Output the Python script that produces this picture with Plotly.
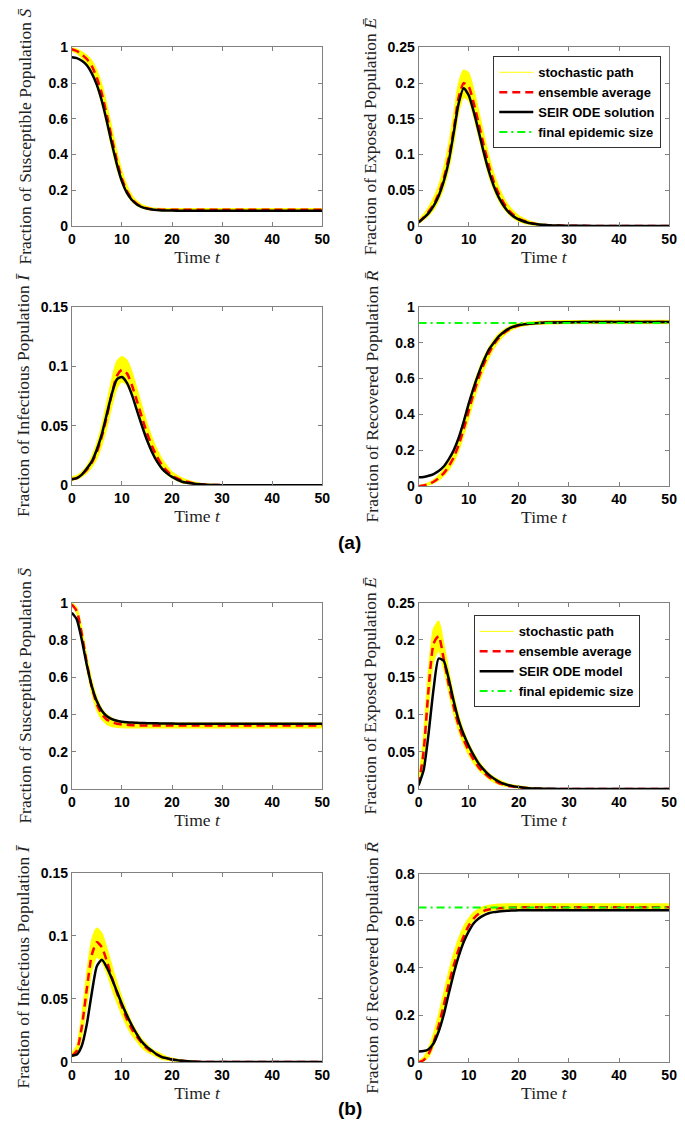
import plotly.graph_objects as go

# ---------------- data ----------------
T = [0, 1, 2, 3, 4, 5, 6, 7, 8, 9, 10, 11, 12, 13, 14, 15, 16, 17, 18, 19, 20,
     22, 24, 26, 28, 30, 35, 40, 45, 50]

# Panel (a)
a_S_ode = [0.945, 0.94, 0.925, 0.9, 0.855, 0.79, 0.70, 0.585, 0.46, 0.345, 0.25, 0.185, 0.145, 0.12, 0.105,
           0.097, 0.092, 0.089, 0.087, 0.086, 0.086, 0.085, 0.085, 0.085, 0.085, 0.085, 0.085, 0.085, 0.085, 0.085]
a_S_avg = [0.99, 0.98, 0.96, 0.935, 0.895, 0.83, 0.74, 0.62, 0.49, 0.365, 0.265, 0.195, 0.15, 0.123, 0.108,
           0.099, 0.094, 0.092, 0.091, 0.09, 0.09, 0.09, 0.09, 0.09, 0.09, 0.09, 0.09, 0.09, 0.09, 0.09]
a_S_lo = [0.98, 0.965, 0.94, 0.905, 0.855, 0.78, 0.68, 0.56, 0.43, 0.32, 0.235, 0.175, 0.137, 0.113, 0.1,
          0.092, 0.088, 0.086, 0.085, 0.084, 0.084, 0.083, 0.083, 0.083, 0.083, 0.083, 0.083, 0.083, 0.083, 0.083]
a_S_hi = [1.0, 0.99, 0.975, 0.955, 0.925, 0.87, 0.79, 0.675, 0.545, 0.415, 0.305, 0.225, 0.17, 0.138, 0.118,
          0.108, 0.101, 0.098, 0.097, 0.096, 0.096, 0.096, 0.096, 0.096, 0.096, 0.096, 0.096, 0.096, 0.096, 0.096]

a_E_ode = [0.005, 0.011, 0.018, 0.028, 0.042, 0.062, 0.09, 0.13, 0.172, 0.193, 0.183, 0.16, 0.132, 0.103, 0.077,
           0.056, 0.04, 0.028, 0.019, 0.013, 0.009, 0.004, 0.002, 0.001, 0.0005, 0.0002, 0, 0, 0, 0]
a_E_avg = [0.005, 0.012, 0.02, 0.03, 0.045, 0.066, 0.096, 0.135, 0.18, 0.2, 0.195, 0.172, 0.143, 0.113, 0.085,
           0.062, 0.045, 0.032, 0.022, 0.015, 0.01, 0.005, 0.002, 0.001, 0.0005, 0.0002, 0, 0, 0, 0]
a_E_lo = [0.003, 0.008, 0.014, 0.022, 0.035, 0.052, 0.078, 0.113, 0.158, 0.18, 0.175, 0.152, 0.124, 0.096, 0.07,
          0.05, 0.035, 0.024, 0.016, 0.01, 0.006, 0.002, 0.0005, 0, 0, 0, 0, 0, 0, 0]
a_E_hi = [0.008, 0.016, 0.026, 0.039, 0.056, 0.08, 0.113, 0.155, 0.2, 0.218, 0.214, 0.19, 0.16, 0.128, 0.098,
          0.073, 0.054, 0.039, 0.028, 0.02, 0.014, 0.007, 0.003, 0.0015, 0.0008, 0.0003, 0, 0, 0, 0]

a_I_ode = [0.005, 0.006, 0.009, 0.014, 0.02, 0.03, 0.043, 0.06, 0.077, 0.089, 0.091, 0.086, 0.076, 0.063, 0.05,
           0.038, 0.028, 0.02, 0.014, 0.01, 0.007, 0.003, 0.0015, 0.0007, 0.0003, 0.0001, 0, 0, 0, 0]
a_I_avg = [0.005, 0.006, 0.009, 0.013, 0.019, 0.028, 0.041, 0.058, 0.077, 0.092, 0.097, 0.094, 0.084, 0.071, 0.057,
           0.044, 0.033, 0.024, 0.017, 0.012, 0.008, 0.004, 0.002, 0.0008, 0.0003, 0.0001, 0, 0, 0, 0]
a_I_lo = [0.004, 0.005, 0.007, 0.01, 0.015, 0.022, 0.033, 0.048, 0.066, 0.081, 0.087, 0.084, 0.075, 0.062, 0.049,
          0.037, 0.027, 0.019, 0.013, 0.009, 0.006, 0.002, 0.001, 0.0003, 0, 0, 0, 0, 0, 0]
a_I_hi = [0.007, 0.008, 0.011, 0.016, 0.024, 0.035, 0.05, 0.069, 0.089, 0.104, 0.108, 0.105, 0.095, 0.081, 0.066,
          0.052, 0.04, 0.03, 0.022, 0.016, 0.011, 0.006, 0.003, 0.0013, 0.0006, 0.0002, 0, 0, 0, 0]

a_R_ode = [0.05, 0.052, 0.058, 0.068, 0.085, 0.11, 0.15, 0.2, 0.27, 0.36, 0.46, 0.55, 0.63, 0.7, 0.76,
           0.8, 0.835, 0.86, 0.878, 0.89, 0.898, 0.906, 0.91, 0.912, 0.913, 0.914, 0.915, 0.915, 0.915, 0.915]
a_R_avg = [0, 0.004, 0.012, 0.025, 0.045, 0.072, 0.11, 0.16, 0.23, 0.32, 0.42, 0.52, 0.605, 0.68, 0.74,
           0.79, 0.826, 0.853, 0.873, 0.887, 0.896, 0.906, 0.91, 0.912, 0.913, 0.914, 0.915, 0.915, 0.915, 0.915]
a_R_lo = [0, 0.002, 0.007, 0.016, 0.032, 0.055, 0.088, 0.132, 0.195, 0.28, 0.375, 0.475, 0.565, 0.645, 0.71,
          0.765, 0.805, 0.837, 0.86, 0.876, 0.887, 0.898, 0.902, 0.904, 0.905, 0.906, 0.906, 0.906, 0.906, 0.906]
a_R_hi = [0.003, 0.008, 0.018, 0.035, 0.06, 0.092, 0.135, 0.19, 0.27, 0.365, 0.465, 0.565, 0.645, 0.715, 0.77,
          0.815, 0.848, 0.87, 0.887, 0.898, 0.905, 0.914, 0.918, 0.92, 0.921, 0.922, 0.923, 0.923, 0.923, 0.923]
a_final_size = 0.91

# Panel (b)
b_S_ode = [0.945, 0.91, 0.8, 0.665, 0.55, 0.47, 0.42, 0.39, 0.375, 0.366, 0.361, 0.358, 0.356, 0.355, 0.354,
           0.353, 0.352, 0.352, 0.351, 0.351, 0.351, 0.35, 0.35, 0.35, 0.35, 0.35, 0.35, 0.35, 0.35, 0.35]
b_S_avg = [0.99, 0.955, 0.83, 0.675, 0.545, 0.455, 0.4, 0.372, 0.358, 0.35, 0.346, 0.344, 0.342, 0.341, 0.341,
           0.34, 0.34, 0.34, 0.34, 0.34, 0.34, 0.34, 0.34, 0.34, 0.34, 0.34, 0.34, 0.34, 0.34, 0.34]
b_S_lo = [0.985, 0.94, 0.8, 0.64, 0.51, 0.42, 0.37, 0.345, 0.334, 0.33, 0.328, 0.327, 0.327, 0.327, 0.327,
          0.327, 0.327, 0.327, 0.327, 0.327, 0.327, 0.327, 0.327, 0.327, 0.327, 0.327, 0.327, 0.327, 0.327, 0.327]
b_S_hi = [1.0, 0.97, 0.86, 0.71, 0.58, 0.49, 0.43, 0.398, 0.38, 0.368, 0.36, 0.357, 0.355, 0.354, 0.353,
          0.353, 0.353, 0.353, 0.353, 0.353, 0.353, 0.353, 0.353, 0.353, 0.353, 0.353, 0.353, 0.353, 0.353, 0.353]

b_E_ode = [0.005, 0.025, 0.075, 0.135, 0.175, 0.172, 0.148, 0.118, 0.092, 0.073, 0.058, 0.045, 0.034, 0.026, 0.019,
           0.014, 0.01, 0.007, 0.005, 0.0035, 0.0025, 0.001, 0.0005, 0.0002, 0.0001, 0, 0, 0, 0, 0]
b_E_avg = [0.005, 0.05, 0.135, 0.195, 0.205, 0.175, 0.14, 0.11, 0.085, 0.066, 0.051, 0.039, 0.029, 0.022, 0.016,
           0.012, 0.008, 0.006, 0.004, 0.003, 0.002, 0.001, 0.0004, 0.0001, 0, 0, 0, 0, 0, 0]
b_E_lo = [0.003, 0.035, 0.11, 0.17, 0.185, 0.16, 0.13, 0.1, 0.077, 0.059, 0.045, 0.034, 0.025, 0.019, 0.013,
          0.009, 0.006, 0.004, 0.003, 0.002, 0.001, 0.0004, 0, 0, 0, 0, 0, 0, 0, 0]
b_E_hi = [0.008, 0.07, 0.16, 0.215, 0.225, 0.195, 0.158, 0.125, 0.098, 0.077, 0.061, 0.048, 0.037, 0.028, 0.021,
          0.016, 0.012, 0.009, 0.006, 0.005, 0.004, 0.002, 0.001, 0.0005, 0.0002, 0, 0, 0, 0, 0]

b_I_ode = [0.005, 0.006, 0.013, 0.03, 0.055, 0.076, 0.081, 0.075, 0.066, 0.056, 0.046, 0.037, 0.029, 0.022, 0.016,
           0.012, 0.009, 0.006, 0.004, 0.003, 0.002, 0.001, 0.0004, 0.0001, 0, 0, 0, 0, 0, 0]
b_I_avg = [0.005, 0.009, 0.028, 0.058, 0.085, 0.095, 0.091, 0.08, 0.067, 0.055, 0.044, 0.034, 0.026, 0.02, 0.015,
           0.011, 0.008, 0.006, 0.004, 0.003, 0.002, 0.001, 0.0004, 0.0001, 0, 0, 0, 0, 0, 0]
b_I_lo = [0.004, 0.006, 0.02, 0.045, 0.072, 0.083, 0.079, 0.07, 0.058, 0.047, 0.037, 0.028, 0.021, 0.016, 0.011,
          0.008, 0.006, 0.004, 0.002, 0.0015, 0.001, 0.0003, 0, 0, 0, 0, 0, 0, 0, 0]
b_I_hi = [0.007, 0.013, 0.036, 0.07, 0.097, 0.106, 0.102, 0.09, 0.076, 0.063, 0.051, 0.04, 0.031, 0.024, 0.018,
          0.014, 0.01, 0.008, 0.006, 0.004, 0.003, 0.0015, 0.0007, 0.0003, 0.0001, 0, 0, 0, 0, 0]

b_R_ode = [0.045, 0.047, 0.055, 0.08, 0.13, 0.2, 0.29, 0.375, 0.45, 0.51, 0.555, 0.59, 0.61, 0.623, 0.632,
           0.637, 0.64, 0.642, 0.643, 0.644, 0.645, 0.645, 0.645, 0.645, 0.645, 0.645, 0.645, 0.645, 0.645, 0.645]
b_R_avg = [0, 0.008, 0.035, 0.085, 0.155, 0.24, 0.33, 0.41, 0.48, 0.535, 0.58, 0.61, 0.63, 0.642, 0.648,
           0.652, 0.654, 0.655, 0.656, 0.657, 0.657, 0.658, 0.658, 0.658, 0.658, 0.658, 0.658, 0.658, 0.658, 0.658]
b_R_lo = [0, 0.003, 0.02, 0.065, 0.135, 0.22, 0.31, 0.395, 0.47, 0.53, 0.572, 0.602, 0.622, 0.634, 0.641,
          0.645, 0.647, 0.648, 0.649, 0.65, 0.65, 0.65, 0.65, 0.65, 0.65, 0.65, 0.65, 0.65, 0.65, 0.65]
b_R_hi = [0.005, 0.02, 0.06, 0.12, 0.2, 0.29, 0.38, 0.46, 0.525, 0.575, 0.61, 0.635, 0.65, 0.66, 0.665,
          0.668, 0.67, 0.671, 0.672, 0.672, 0.672, 0.672, 0.672, 0.672, 0.672, 0.672, 0.672, 0.672, 0.672, 0.672]
b_final_size = 0.657

X_TICKS = [0, 10, 20, 30, 40, 50]
S_TICKS = [0, 0.2, 0.4, 0.6, 0.8, 1]
E_TICKS = [0, 0.05, 0.1, 0.15, 0.2, 0.25]
I_TICKS = [0, 0.05, 0.1, 0.15]
RB_TICKS = [0, 0.2, 0.4, 0.6, 0.8]

Y_TITLES = {
    "S": "Fraction of Susceptible Population <i>S\u0304</i>",
    "E": "Fraction of Exposed Population <i>E\u0304</i>",
    "I": "Fraction of Infectious Population <i>I\u0304</i>",
    "R": "Fraction of Recovered Population <i>R\u0304</i>",
}

# ---------------- layout helpers ----------------
W, H = 685, 1148
def xdom(x0, x1):
    return [x0 / W, x1 / W]
def ydom(top, bottom):
    return [1 - bottom / H, 1 - top / H]

LEFT = xdom(69, 324)
RIGHT = xdom(422, 677)

panels = [
    # (var, ode, avg, lo, hi, ticks, xdomain, ydomain, final, legend, standoff)
    ("S", a_S_ode, a_S_avg, a_S_lo, a_S_hi, S_TICKS, LEFT, ydom(40, 221), None, None, 12),
    ("E", a_E_ode, a_E_avg, a_E_lo, a_E_hi, E_TICKS, RIGHT, ydom(40, 221), None, "legend", 6),
    ("I", a_I_ode, a_I_avg, a_I_lo, a_I_hi, I_TICKS, LEFT, ydom(303, 484), None, None, 6),
    ("R", a_R_ode, a_R_avg, a_R_lo, a_R_hi, S_TICKS, RIGHT, ydom(303, 485), a_final_size, "legend", 12),
    ("S", b_S_ode, b_S_avg, b_S_lo, b_S_hi, S_TICKS, LEFT, ydom(603, 792), None, None, 12),
    ("E", b_E_ode, b_E_avg, b_E_lo, b_E_hi, E_TICKS, RIGHT, ydom(603, 792), None, "legend2", 6),
    ("I", b_I_ode, b_I_avg, b_I_lo, b_I_hi, I_TICKS, LEFT, ydom(877, 1069), None, None, 6),
    ("R", b_R_ode, b_R_avg, b_R_lo, b_R_hi, RB_TICKS, RIGHT, ydom(878, 1069), b_final_size, "legend2", 12),
]

YELLOW = "#ffff00"
RED = "#ff0000"
BLACK = "#000000"
GREEN = "#00ff00"
SANS = "Liberation Sans, Arial, sans-serif"
SERIF = "Liberation Serif, Times New Roman, serif"

fig = go.Figure()

ode_names = {"legend": "SEIR ODE solution", "legend2": "SEIR ODE model"}

layout_axes = {}
for i, (var, ode, avg, lo, hi, ticks, xd, yd, final, lg, standoff) in enumerate(panels):
    n = i + 1
    xa = "x" if n == 1 else f"x{n}"
    ya = "y" if n == 1 else f"y{n}"
    show_main_legend = (var == "E" and lg is not None)
    band_legend = lg if lg else "legend"
    fig.add_trace(go.Scatter(x=T, y=lo, mode="lines", xaxis=xa, yaxis=ya,
                             line=dict(color=YELLOW, width=1, shape="spline", smoothing=0.6),
                             showlegend=False, hoverinfo="skip", legend=band_legend))
    fig.add_trace(go.Scatter(x=T, y=hi, mode="lines", xaxis=xa, yaxis=ya, fill="tonexty",
                             fillcolor=YELLOW,
                             line=dict(color=YELLOW, width=1.5, shape="spline", smoothing=0.6),
                             showlegend=False, hoverinfo="skip", legend=band_legend))
    if show_main_legend:
        # legend-only entry for the stochastic paths (thin yellow line)
        fig.add_trace(go.Scatter(x=[None], y=[None], mode="lines", name="stochastic path",
                                 xaxis=xa, yaxis=ya, fill="none",
                                 line=dict(color=YELLOW, width=1), legend=lg, legendrank=1,
                                 showlegend=True))
    fig.add_trace(go.Scatter(x=T, y=avg, mode="lines", xaxis=xa, yaxis=ya,
                             name="ensemble average",
                             line=dict(color=RED, width=2.5, dash="8px,5px", shape="spline", smoothing=0.6),
                             showlegend=show_main_legend, legend=band_legend, legendrank=2))
    fig.add_trace(go.Scatter(x=T, y=ode, mode="lines", xaxis=xa, yaxis=ya,
                             name=ode_names.get(lg, "SEIR ODE solution"),
                             line=dict(color=BLACK, width=2.5, shape="spline", smoothing=0.6),
                             showlegend=show_main_legend, legend=band_legend, legendrank=3))
    if final is not None:
        fig.add_trace(go.Scatter(x=[T[0], T[-1]], y=[final, final], mode="lines", xaxis=xa, yaxis=ya,
                                 name="final epidemic size",
                                 line=dict(color=GREEN, width=2, dash="8px,4px,2px,4px"),
                                 showlegend=True, legend=lg, legendrank=4))
    axis_common = dict(showline=True, linecolor="#808080", linewidth=1, mirror="allticks",
                       ticks="inside", ticklen=4, tickcolor="#808080", showgrid=False, zeroline=False,
                       ticklabeloverflow="allow",
                       tickfont=dict(family=SANS, size=14, color="black", weight="bold"))
    layout_axes["xaxis" if n == 1 else f"xaxis{n}"] = dict(
        domain=xd, anchor=ya, range=[0, 50], tickvals=X_TICKS,
        title=dict(text="Time <i>t</i>", font=dict(family=SERIF, size=17.5, color="#222"), standoff=2),
        **axis_common)
    layout_axes["yaxis" if n == 1 else f"yaxis{n}"] = dict(
        domain=yd, anchor=xa, range=[ticks[0], ticks[-1]], tickvals=ticks,
        title=dict(text=Y_TITLES[var], font=dict(family=SERIF, size=17.5, color="#222"), standoff=standoff),
        **axis_common)

legend_style = dict(bgcolor="white", bordercolor="#333", borderwidth=1,
                    font=dict(family=SANS, size=13, color="black", weight="bold"),
                    xanchor="left", yanchor="top", tracegroupgap=0, itemwidth=34,
                    traceorder="normal")

fig.update_layout(
    width=W, height=H, margin=dict(l=0, r=0, t=0, b=0),
    paper_bgcolor="white", plot_bgcolor="white",
    legend=dict(x=498 / W, y=1 - 49 / H, **legend_style),
    legend2=dict(x=478 / W, y=1 - 616 / H, **legend_style),
    annotations=[
        dict(text="<b>(a)</b>", x=352 / W, y=1 - 542 / H, xref="paper", yref="paper",
             showarrow=False, font=dict(family=SANS, size=19, color="black")),
        dict(text="<b>(b)</b>", x=352 / W, y=1 - 1129 / H, xref="paper", yref="paper",
             showarrow=False, font=dict(family=SANS, size=19, color="black")),
    ],
    **layout_axes,
)

fig.write_html(
    "out.html",
    config={"displayModeBar": False},
    post_script="document.body.style.margin='0';document.body.style.padding='0';"
                "document.documentElement.style.overflow='hidden';",
)
